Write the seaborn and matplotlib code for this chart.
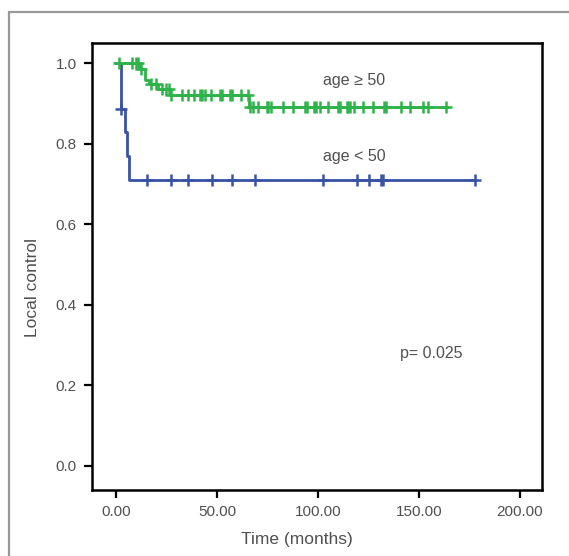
import numpy as np
import pandas as pd
import matplotlib
matplotlib.use("Agg")
import matplotlib.pyplot as plt
from matplotlib.patches import Rectangle
import seaborn as sns

# Kaplan-Meier step data
old_times = [0, 11.7, 14.2, 16.5, 20.8, 26.6, 66.0, 164.5]
old_surv = [1.0, 0.986, 0.957, 0.948, 0.936, 0.920, 0.891, 0.891]
young_times = [0, 2.3, 4.5, 5.3, 6.4, 177.7]
young_surv = [1.0, 0.885, 0.830, 0.770, 0.710, 0.710]

# censored observations
old_cens = [1.5, 7.9, 10.0, 11.0, 12.5, 17.3, 20.0, 22.6, 24.5, 26.0,
            27.2, 32.8, 35.6, 38.8, 41.6, 42.4, 44.1, 47.0, 51.5, 52.6, 56.4, 57.3, 61.9, 65.5,
            66.5, 67.8, 70.4, 74.6, 75.4, 76.6, 82.8, 87.5, 93.6, 94.4, 98.0, 98.9, 101.0,
            105.1, 110.1, 110.9, 114.2, 115.0, 115.8, 118.0, 122.4, 127.1, 132.7, 133.7,
            141.1, 145.5, 151.8, 154.3, 163.5]
young_cens = [2.5, 15.3, 27.2, 35.6, 47.5, 57.4, 68.8, 102.3, 119.3, 125.2, 131.0, 132.0, 177.7]

x_ticks = [0, 50, 100, 150, 200]
y_ticks = [0.0, 0.2, 0.4, 0.6, 0.8, 1.0]

green = "#2db34a"
blue = "#3953a4"
gray_txt = "#505050"


def surv_at(times, surv, t):
    idx = np.searchsorted(times, t, side="right") - 1
    return surv[idx]


sns.set_style("ticks")
plt.rcParams["font.family"] = ["Liberation Sans", "DejaVu Sans"]

fig = plt.figure(figsize=(5.69, 5.56), dpi=100)
ax = fig.add_axes([0.1617, 0.1187, 0.7908, 0.804])

# outer gray frame
fig.patches.append(Rectangle((0.015, -0.2), 1.2, 1.178, transform=fig.transFigure,
                             fill=False, edgecolor="#999999", linewidth=1.6))

df_old = pd.DataFrame({"t": old_times, "s": old_surv})
df_young = pd.DataFrame({"t": young_times, "s": young_surv})
sns.lineplot(data=df_young, x="t", y="s", ax=ax, color=blue, linewidth=2.0,
             drawstyle="steps-post", estimator=None, sort=False)
sns.lineplot(data=df_old, x="t", y="s", ax=ax, color=green, linewidth=2.0,
             drawstyle="steps-post", estimator=None, sort=False)

cy = pd.DataFrame({"t": young_cens,
                   "s": [surv_at(young_times, young_surv, t) for t in young_cens]})
co = pd.DataFrame({"t": old_cens,
                   "s": [surv_at(old_times, old_surv, t) for t in old_cens]})
sns.scatterplot(data=cy, x="t", y="s", ax=ax, marker="+", s=70, color=blue,
                linewidth=1.8, zorder=3)
sns.scatterplot(data=co, x="t", y="s", ax=ax, marker="+", s=70, color=green,
                linewidth=1.8, zorder=3)

ax.set_xlim(-11.9, 210.9)
ax.set_ylim(-0.06, 1.05)
ax.set_xticks(x_ticks)
ax.set_xticklabels([f"{v:.2f}" for v in x_ticks])
ax.set_yticks(y_ticks)
ax.set_yticklabels([f"{v:.1f}" for v in y_ticks])
ax.tick_params(axis="both", length=6, width=1.6, color="black",
               labelsize=11, labelcolor=gray_txt, pad=5)
for sp in ax.spines.values():
    sp.set_linewidth(1.8)
    sp.set_color("black")
    sp.set_visible(True)

ax.set_xlabel("Time (months)", fontsize=12.5, color=gray_txt)
ax.set_ylabel("Local control", fontsize=12.5, color=gray_txt)
ax.xaxis.set_label_coords(0.456, -0.093)
ax.yaxis.set_label_coords(-0.115, 0.452)

ax.text(117.8, 0.958, "age \u2265 50", ha="center", va="center", fontsize=11.5, color=gray_txt)
ax.text(117.8, 0.769, "age < 50", ha="center", va="center", fontsize=11.5, color=gray_txt)
ax.text(156, 0.278, "p= 0.025", ha="center", va="center", fontsize=11.5, color=gray_txt)

fig.savefig("out.png", dpi=100)
